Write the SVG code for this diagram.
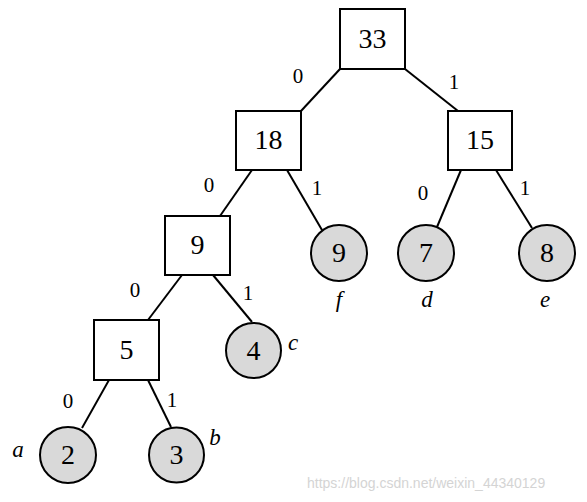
<svg xmlns="http://www.w3.org/2000/svg" width="587" height="502" viewBox="0 0 587 502">
<style>
.box{fill:#fff;stroke:#000;stroke-width:2}
.leaf{fill:#d9d9d9;stroke:#000;stroke-width:2}
.num{font-family:"Liberation Serif","Times New Roman",serif;font-size:28px;text-anchor:middle;fill:#000}
.lbl{font-family:"Liberation Serif","Times New Roman",serif;font-size:21px;text-anchor:middle;fill:#000}
.nm{font-family:"Liberation Serif","Times New Roman",serif;font-size:23px;font-style:italic;text-anchor:middle;fill:#000}
.edge{stroke:#000;stroke-width:2;fill:none}
.wm{font-family:"Liberation Sans",Arial,sans-serif;font-size:14px;fill:#d4d4d4}
</style>
<rect width="587" height="502" fill="#fff"/>
<g id="connectors">
<line class="edge" x1="340" y1="69" x2="301" y2="111"/>
<line class="edge" x1="405" y1="69" x2="458" y2="111"/>
<line class="edge" x1="252" y1="170" x2="220" y2="216"/>
<line class="edge" x1="287" y1="170" x2="322" y2="230"/>
<line class="edge" x1="461" y1="170" x2="437" y2="227"/>
<line class="edge" x1="496" y1="170" x2="532" y2="228"/>
<line class="edge" x1="182" y1="275" x2="148" y2="320"/>
<line class="edge" x1="213" y1="275" x2="252" y2="322"/>
<line class="edge" x1="109" y1="380" x2="82" y2="428"/>
<line class="edge" x1="148" y1="380" x2="171" y2="427"/>
<text class="lbl" x="298" y="83">0</text>
<text class="lbl" x="454" y="89">1</text>
<text class="lbl" x="209" y="192">0</text>
<text class="lbl" x="317" y="195">1</text>
<text class="lbl" x="423" y="200">0</text>
<text class="lbl" x="525" y="195">1</text>
<text class="lbl" x="135" y="297">0</text>
<text class="lbl" x="248" y="300">1</text>
<text class="lbl" x="68" y="408">0</text>
<text class="lbl" x="172" y="407">1</text>
</g>
<g id="n33"><rect class="box" x="340" y="9" width="65" height="60"/><text class="num" x="372.5" y="48">33</text></g>
<g id="n18"><rect class="box" x="236" y="111" width="65" height="59"/><text class="num" x="268.5" y="149">18</text></g>
<g id="n15"><rect class="box" x="448" y="111" width="64" height="59"/><text class="num" x="480" y="149">15</text></g>
<g id="n9"><rect class="box" x="165" y="216" width="65" height="59"/><text class="num" x="197.5" y="254">9</text></g>
<g id="n5"><rect class="box" x="94" y="320" width="65" height="60"/><text class="num" x="126.5" y="359">5</text></g>
<g id="f"><circle class="leaf" cx="339" cy="253" r="28"/><text class="num" x="339" y="262">9</text><text class="nm" x="339" y="307">f</text></g>
<g id="d"><circle class="leaf" cx="426" cy="253" r="28"/><text class="num" x="426" y="262">7</text><text class="nm" x="427" y="307">d</text></g>
<g id="e"><circle class="leaf" cx="547" cy="253" r="28"/><text class="num" x="547" y="262">8</text><text class="nm" x="545" y="307">e</text></g>
<g id="c"><circle class="leaf" cx="253.5" cy="350.5" r="27.5"/><text class="num" x="253.5" y="360">4</text><text class="nm" x="293" y="350">c</text></g>
<g id="a"><circle class="leaf" cx="68" cy="455" r="28"/><text class="num" x="68" y="464">2</text><text class="nm" x="18" y="457">a</text></g>
<g id="b"><circle class="leaf" cx="176.5" cy="455" r="27.5"/><text class="num" x="176.5" y="464">3</text><text class="nm" x="215" y="445">b</text></g>
<text class="wm" x="307" y="488">https://blog.csdn.net/weixin_44340129</text>
</svg>
